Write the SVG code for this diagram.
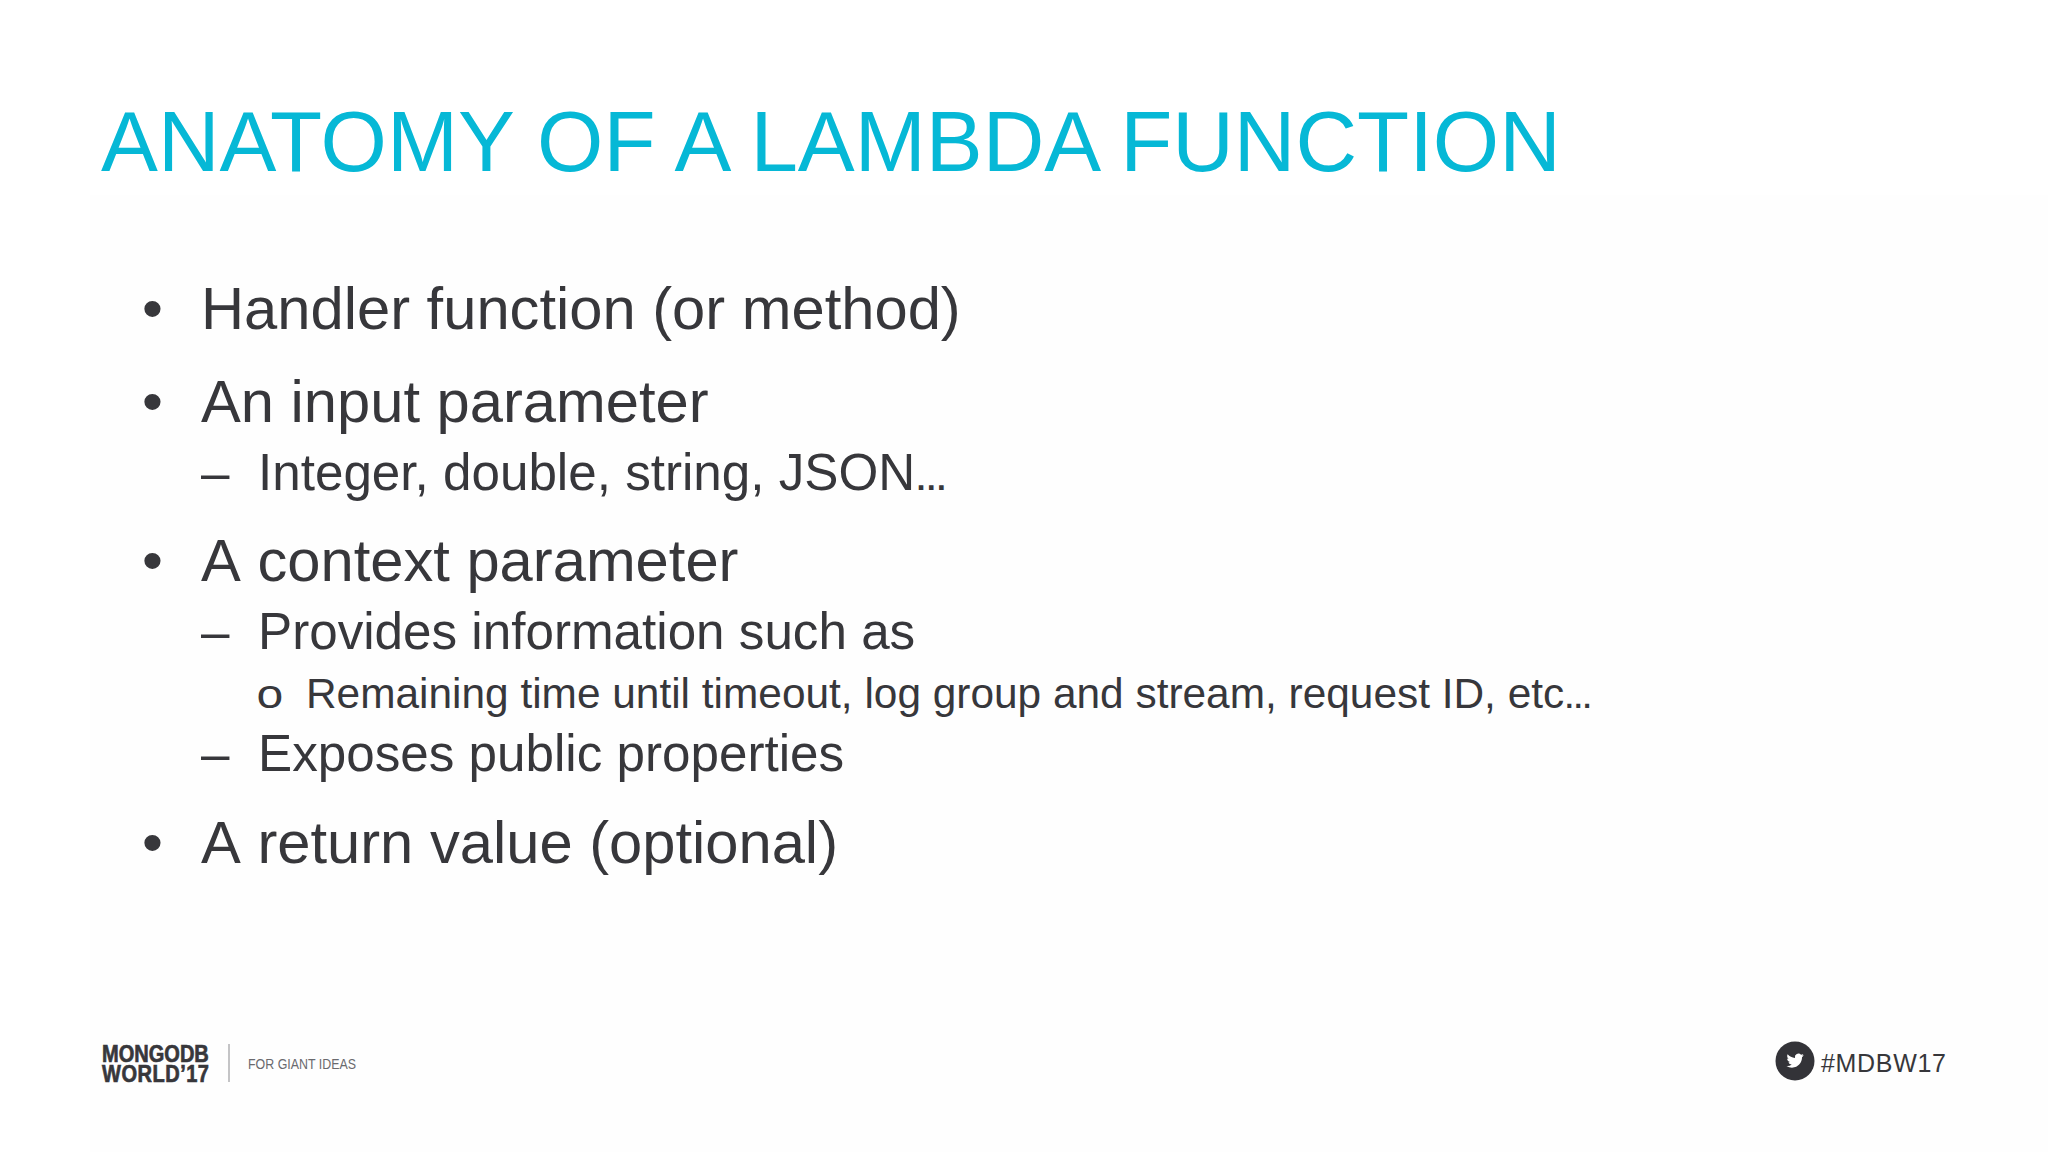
<svg xmlns="http://www.w3.org/2000/svg" width="2048" height="1152" viewBox="0 0 2048 1152">
<style>
text{font-family:"Liberation Sans",Arial,sans-serif;fill:#37373b}
.t{font-size:85.3px;fill:#06b8d6}
.l1{font-size:59.7px;font-kerning:none}.l2{font-size:51.2px}.l3{font-size:42.4px}
.m{font-size:40px;font-family:"Liberation Mono","Courier New",monospace;font-weight:400;text-anchor:middle}
.logo{font-size:24px;font-weight:700;stroke:#37373b;stroke-width:.7px}
.e2{font-size:32px;font-weight:700}.e3{font-size:28px;font-weight:700}
</style>
<rect width="2048" height="1152" fill="#ffffff"/>
<rect x="90" y="195" width="1958" height="957" fill="#fefefe"/>
<text class="t" x="101" y="171">ANATOMY OF A LAMBDA FUNCTION</text>
<g id="bullets">
<text class="l1" x="142" y="329">•</text><text class="l1" x="201" y="329">Handler function (or method)</text>
<text class="l1" x="142" y="422">•</text><text class="l1" x="201" y="422">An input parameter</text>
<text class="l2" x="201" y="490">–</text><text class="l2" x="258" y="490">Integer, double, string, JSON<tspan class="e2">…</tspan></text>
<text class="l1" x="142" y="581">•</text><text class="l1" x="201" y="581">A context parameter</text>
<text class="l2" x="201" y="649">–</text><text class="l2" x="258" y="649">Provides information such as</text>
<text class="m" transform="translate(270 708) scale(1.2 1)">o</text><text class="l3" x="306" y="708">Remaining time until timeout, log group and stream, request ID, etc<tspan class="e3">…</tspan></text>
<text class="l2" x="201" y="771">–</text><text class="l2" x="258" y="771">Exposes public properties</text>
<text class="l1" x="142" y="863">•</text><text class="l1" x="201" y="863">A return value (optional)</text>
</g>
<g id="footer-logo">
<text class="logo" transform="translate(102 1062) scale(.835 1)"><tspan x="0" y="0">MONGODB</tspan><tspan x="0" y="20" letter-spacing=".6">WORLD’17</tspan></text>
<line x1="229" y1="1044" x2="229" y2="1082" stroke="#b0b0b3" stroke-width="1.5"/>
<text x="248" y="1069" font-size="15" textLength="108" lengthAdjust="spacingAndGlyphs" style="fill:#6a6a6e">FOR GIANT IDEAS</text>
</g>
<g id="footer-tag">
<circle cx="1795" cy="1061" r="19.5" fill="#333338"/>
<path transform="translate(1786.5 1052) scale(.72)" fill="#fff" d="M23.953 4.57a10 10 0 01-2.825.775 4.958 4.958 0 002.163-2.723c-.951.555-2.005.959-3.127 1.184a4.92 4.92 0 00-8.384 4.482C7.69 8.095 4.067 6.13 1.64 3.162a4.822 4.822 0 00-.666 2.475c0 1.71.87 3.213 2.188 4.096a4.904 4.904 0 01-2.228-.616v.06a4.923 4.923 0 003.946 4.827 4.996 4.996 0 01-2.212.085 4.936 4.936 0 004.604 3.417 9.867 9.867 0 01-6.102 2.105c-.39 0-.779-.023-1.17-.067a13.995 13.995 0 007.557 2.209c9.053 0 13.998-7.496 13.998-13.985 0-.21 0-.42-.015-.63A9.935 9.935 0 0024 4.59z"/>
<text x="1821" y="1072" font-size="25" textLength="125">#MDBW17</text>
</g>
</svg>
